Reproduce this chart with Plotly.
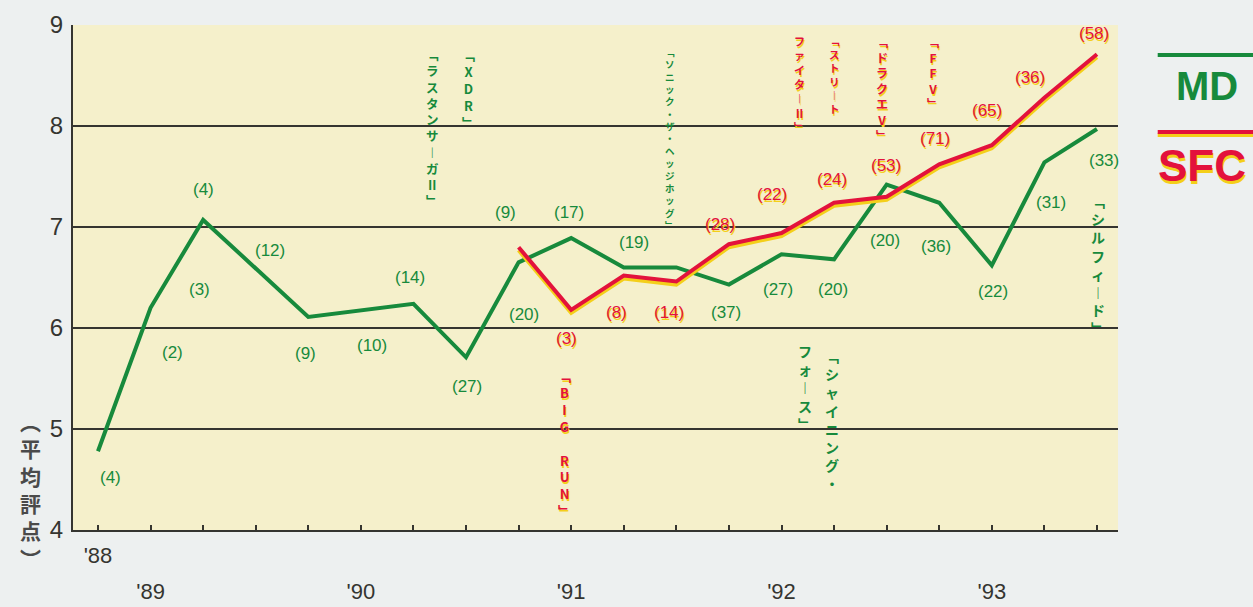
import plotly.graph_objects as go

# ---------------- data ----------------
QUARTER_INDEX = list(range(20))
YEAR_LABELS = ["", "'89", "", "", "", "'90", "", "", "", "'91", "", "", "", "'92", "", "", "", "'93", "", ""]
FIRST_YEAR_LABEL = "'88"
Y_TICKS = [4, 5, 6, 7, 8, 9]

MD_SCORE = [4.78, 6.2, 7.07, None, 6.11, None, 6.24, 5.71, 6.65, 6.89,
            6.6, 6.6, 6.43, 6.73, 6.68, 7.42, 7.24, 6.62, 7.64, 7.97]
SFC_SCORE = [None, None, None, None, None, None, None, None, 6.8, 6.18,
             6.52, 6.46, 6.83, 6.94, 7.24, 7.3, 7.62, 7.81, 8.28, 8.71]

MD_COUNTS = ["(4)", "(2)", "(3)", "(4)", "(12)", "(9)", "(10)", "(14)", "(27)", "(9)", "(20)",
             "(17)", "(19)", "(37)", "(27)", "(20)", "(20)", "(36)", "(22)", "(31)", "(33)"]
SFC_COUNTS = ["(3)", "(8)", "(14)", "(28)", "(22)", "(24)", "(53)", "(71)", "(65)", "(36)", "(58)"]

MD_TITLES = ["﹁XDR﹂", "﹁ラスタンサ︱ガⅡ﹂", "﹁ソニック・ザ・ヘッジホッグ﹂",
             "﹁シャイニング・", "フォ︱ス﹂", "﹁シルフィ︱ド﹂"]
SFC_TITLES = ["﹁ストリ︱ト", "ファイタ︱Ⅱ﹂", "﹁ドラクエⅤ﹂", "﹁FFⅤ﹂", "﹁BIG RUN﹂"]

# ---------------- placement (positions, in data units) ----------------
MD_COUNT_POS = [(0.23, 4.52), (1.41, 5.76), (1.94, 6.38), (2.0, 7.37), (3.27, 6.77), (3.94, 5.75),
                (5.21, 5.83), (5.93, 6.5), (7.02, 5.42), (7.76, 7.14), (8.1, 6.13), (8.96, 7.14),
                (10.19, 6.85), (11.94, 6.15), (12.93, 6.38), (13.98, 6.38), (14.97, 6.87),
                (15.94, 6.81), (17.02, 6.36), (18.12, 7.24), (19.13, 7.66)]
SFC_COUNT_POS = [(8.92, 5.9), (9.87, 6.15), (10.86, 6.15), (11.83, 7.02), (12.82, 7.32),
                 (13.96, 7.47), (14.99, 7.61), (15.92, 7.88), (16.91, 8.15), (17.73, 8.48), (18.94, 8.92)]
MD_TITLE_POS = [(7.04, 8.82, 13), (6.37, 8.82, 12.5), (10.88, 8.82, 9.5),
                (13.96, 5.84, 14), (13.45, 5.89, 14), (19.02, 7.38, 14)]
SFC_TITLE_POS = [(14.0, 8.94, 10.5), (13.35, 8.94, 11), (14.91, 8.94, 12), (15.88, 8.94, 12), (8.88, 5.64, 13)]

GREEN = "#178a3c"
RED = "#e3123c"
YELLOW = "#f4cf1a"
INK = "#353530"
NUM_FONT = "Liberation Sans Narrow, Liberation Sans, Arial Narrow, sans-serif"
JP_FONT = "Noto Sans CJK JP, sans-serif"
BOLD_FONT = "Liberation Sans, Arial, sans-serif"

fig = go.Figure()
fig.add_trace(go.Scatter(x=QUARTER_INDEX, y=MD_SCORE, mode="lines", connectgaps=True,
                         line=dict(color=GREEN, width=4), xaxis="x", yaxis="y", showlegend=False))
fig.add_trace(go.Scatter(x=QUARTER_INDEX, y=SFC_SCORE, mode="lines", connectgaps=True,
                         line=dict(color=YELLOW, width=4), xaxis="x", yaxis="y2", showlegend=False))
fig.add_trace(go.Scatter(x=QUARTER_INDEX, y=SFC_SCORE, mode="lines", connectgaps=True,
                         line=dict(color=RED, width=4), xaxis="x2", yaxis="y3", showlegend=False))

ann = []
for t, (x, y) in zip(MD_COUNTS, MD_COUNT_POS):
    ann.append(dict(x=x, y=y, xref="x", yref="y", text=t, showarrow=False,
                    font=dict(family=NUM_FONT, size=17, color=GREEN)))
for t, (x, y) in zip(SFC_COUNTS, SFC_COUNT_POS):
    ann.append(dict(x=x, y=y, xref="x", yref="y", text=t, showarrow=False, xshift=1, yshift=-2,
                    font=dict(family=NUM_FONT, size=17, color=YELLOW)))
    ann.append(dict(x=x, y=y, xref="x", yref="y", text=t, showarrow=False,
                    font=dict(family=NUM_FONT, size=17, color=RED)))


def vert(s):
    return "<br>".join(ch if ch != " " else "&nbsp;" for ch in s)


for t, (x, y, s) in zip(MD_TITLES, MD_TITLE_POS):
    ann.append(dict(x=x, y=y, xref="x", yref="y", text="<b>" + vert(t) + "</b>", showarrow=False,
                    yanchor="top", font=dict(family=JP_FONT, size=s, color=GREEN)))
for t, (x, y, s) in zip(SFC_TITLES, SFC_TITLE_POS):
    ann.append(dict(x=x, y=y, xref="x", yref="y", text="<b>" + vert(t) + "</b>", showarrow=False,
                    yanchor="top", xshift=1, yshift=-1.5, font=dict(family=JP_FONT, size=s, color=YELLOW)))
    ann.append(dict(x=x, y=y, xref="x", yref="y", text="<b>" + vert(t) + "</b>", showarrow=False,
                    yanchor="top", font=dict(family=JP_FONT, size=s, color=RED)))

# y-axis title (vertical)
ann.append(dict(x=-0.041, y=0.08, xref="paper", yref="paper", text="<b>" + vert("︵平均評点︶") + "</b>",
                showarrow=False, xanchor="center", yanchor="middle",
                font=dict(family=JP_FONT, size=21, color="#4a4a4a")))

# legend
ann.append(dict(x=1.054, y=0.879, xref="paper", yref="paper", text="<b>MD</b>", showarrow=False,
                xanchor="left", yanchor="middle", font=dict(family=BOLD_FONT, size=40, color=GREEN)))
ann.append(dict(x=1.036, y=0.722, xref="paper", yref="paper", text="<b>SFC</b>", showarrow=False,
                xanchor="left", yanchor="middle", xshift=1, yshift=-3,
                font=dict(family=BOLD_FONT, size=44, color=YELLOW)))
ann.append(dict(x=1.036, y=0.722, xref="paper", yref="paper", text="<b>SFC</b>", showarrow=False,
                xanchor="left", yanchor="middle", font=dict(family=BOLD_FONT, size=44, color=RED)))

shapes = [
    dict(type="line", xref="paper", yref="paper", x0=1.038, x1=1.13, y0=0.9406, y1=0.9406,
         line=dict(color=GREEN, width=4)),
    dict(type="line", xref="paper", yref="paper", x0=1.038, x1=1.13, y0=0.782, y1=0.782,
         line=dict(color=YELLOW, width=4)),
    dict(type="line", xref="paper", yref="paper", x0=1.038, x1=1.13, y0=0.788, y1=0.788,
         line=dict(color=RED, width=4)),
]

XR = [-0.475, 19.4]
fig.update_layout(
    width=1253, height=607,
    margin=dict(l=73, r=135, t=25, b=77, autoexpand=False),
    paper_bgcolor="#edf0f0", plot_bgcolor="#f5f0cb",
    annotations=ann, shapes=shapes, showlegend=False,
    xaxis=dict(range=XR, tickmode="array", tickvals=QUARTER_INDEX, ticktext=YEAR_LABELS,
               ticks="inside", ticklen=5, tickwidth=2, tickcolor=INK, automargin=False,
               showline=True, linecolor=INK, linewidth=2, showgrid=False, zeroline=False,
               tickfont=dict(family=NUM_FONT, size=22, color=INK), ticklabelstandoff=41),
    xaxis2=dict(range=XR, overlaying="x", anchor="y3", tickmode="array", tickvals=[0],
                ticktext=[FIRST_YEAR_LABEL], ticks="", showline=False, showgrid=False, zeroline=False,
                automargin=False, side="bottom", tickfont=dict(family=NUM_FONT, size=22, color=INK),
                ticklabelstandoff=10),
    yaxis=dict(range=[4, 9], tickmode="array", tickvals=Y_TICKS, ticks="", automargin=False,
               showline=True, linecolor=INK, linewidth=2, showgrid=True, gridcolor=INK, gridwidth=2,
               zeroline=False, tickfont=dict(family=NUM_FONT, size=24, color=INK), ticklabelstandoff=3),
    yaxis2=dict(range=[4.03, 9.03], overlaying="y", anchor="x", visible=False, automargin=False),
    yaxis3=dict(range=[4, 9], overlaying="y", anchor="x2", showticklabels=False, showgrid=False,
                zeroline=False, showline=False, ticks="", automargin=False),
)

fig.write_html("out.html", config={"displayModeBar": False},
               post_script="document.body.style.margin='0';document.body.style.background='#edf0f0';")
